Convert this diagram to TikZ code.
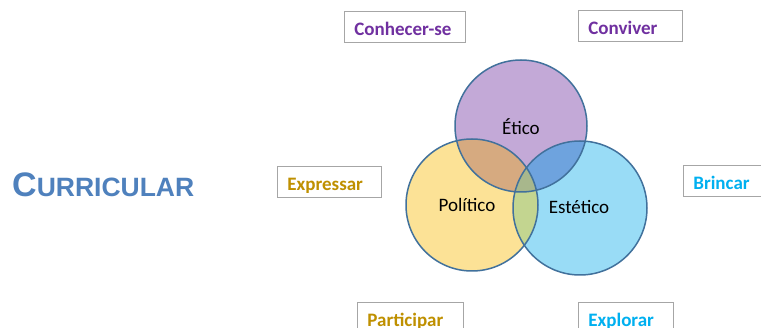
\documentclass[tikz,border=0pt]{standalone}
\usepackage{fontspec}
\setmainfont{Carlito}
\newfontfamily\titlefont{Liberation Sans}

\definecolor{ringline}{HTML}{41719C}
\definecolor{boxline}{HTML}{A6A6A6}
\definecolor{eticofill}{HTML}{C3A9D7}
\definecolor{politicofill}{HTML}{FCE296}
\definecolor{esteticofill}{HTML}{99DCF6}
\definecolor{epfill}{HTML}{D6AA80}
\definecolor{esfill}{HTML}{6EA3DE}
\definecolor{psfill}{HTML}{C3D590}
\definecolor{allfill}{HTML}{A8B78C}
\definecolor{roxo}{HTML}{7030A0}
\definecolor{ouro}{HTML}{BF9000}
\definecolor{azul}{HTML}{00B0F0}
\definecolor{titulo}{HTML}{4F81BD}

\tikzset{
	ring/.style={draw=ringline, line width=1.5pt},
	word/.style={draw=boxline, line width=0.8pt, anchor=north west,
		inner xsep=10pt, inner ysep=0pt, text height=24pt, text depth=7pt,
		align=left, font=\bfseries\fontsize{19}{22}\selectfont},
	circlabel/.style={font=\fontsize{19}{22}\selectfont}
}

\begin{document}
\begin{tikzpicture}[x=1pt,y=-1pt]
			\useasboundingbox (0,0) rectangle (761,328);
			\fill[white] (0,0) rectangle (761,328);

			\coordinate (etico) at (521,126);
			\coordinate (politico) at (472,205);
			\coordinate (estetico) at (580,208);

			\fill[eticofill] (etico) circle (66);
			\fill[politicofill] (politico) circle (66);
			\fill[esteticofill] (estetico) circle (67);
			\begin{scope}
				\clip (etico) circle (66);
				\fill[epfill] (politico) circle (66);
				\fill[esfill] (estetico) circle (67);
			\end{scope}
			\begin{scope}
				\clip (politico) circle (66);
				\fill[psfill] (estetico) circle (67);
				\clip (estetico) circle (67);
				\fill[allfill] (etico) circle (66);
			\end{scope}
			\draw[ring] (etico) circle (66);
			\draw[ring] (politico) circle (66);
			\draw[ring] (estetico) circle (67);

			\node (eticolabel) [circlabel] at (521,127) {Ético};
			\node (politicolabel) [circlabel] at (467,205) {Político};
			\node (esteticolabel) [circlabel] at (579,207) {Estético};

			\node (titulo) [anchor=base west, inner sep=0pt, text=titulo, font=\titlefont\bfseries] at (12,197)
				{{\fontsize{34}{40}\selectfont C}{\fontsize{26.5}{32}\selectfont URRICULAR}};

			\node (conhecer) [word, text width=101pt, text=roxo] at (344,11) {Conhecer-se};
			\node (conviver) [word, text width=84pt, text=roxo] at (578,10) {Conviver};
			\node (expressar) [word, text width=84pt, text=ouro] at (277,166) {Expressar};
			\node (brincar) [word, text width=60pt, text=azul] at (683,165) {Brincar};
			\node (participar) [word, text width=86pt, text=ouro] at (357,302) {Participar};
			\node (explorar) [word, text width=75pt, text=azul] at (578,302) {Explorar};
\end{tikzpicture}
\end{document}
